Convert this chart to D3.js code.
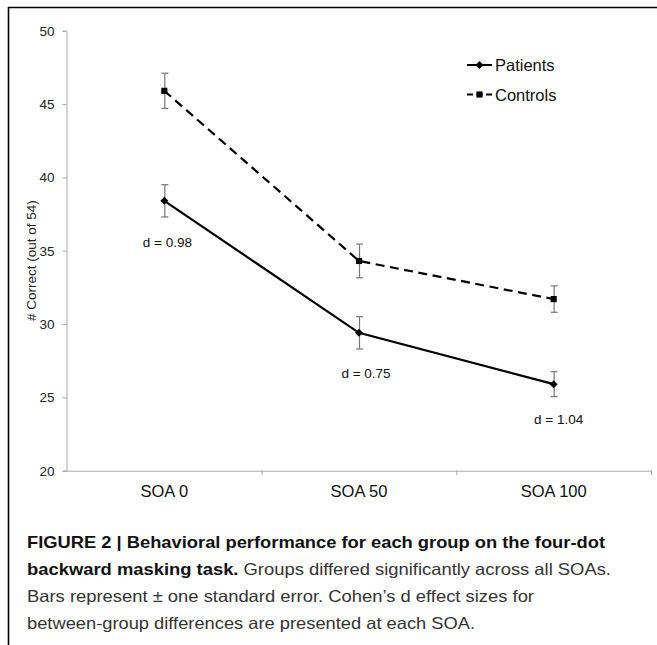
<!DOCTYPE html>
<html>
<head>
<meta charset="utf-8">
<script src="https://cdn.jsdelivr.net/npm/d3@7"></script>
<style>
  html, body { margin: 0; padding: 0; background: #fff; }
  svg { display: block; font-family: "Liberation Sans", Arial, Helvetica, sans-serif; }
</style>
</head>
<body>
<svg id="chart" width="657" height="645"></svg>
<script>
const categories = ["SOA 0", "SOA 50", "SOA 100"];
const patients = [38.4, 29.4, 25.9];
const patientsErr = [1.1, 1.1, 0.85];
const controls = [45.9, 34.3, 31.7];
const controlsErr = [1.2, 1.15, 0.9];
const effectLabels = ["d = 0.98", "d = 0.75", "d = 1.04"];
const effectY = [35.6, 26.65, 23.5];
const yTicks = [20, 25, 30, 35, 40, 45, 50];
const seriesNames = ["Patients", "Controls"];
const captionLines = [
  [{t: "FIGURE 2 | Behavioral performance for each group on the four-dot", b: true}],
  [{t: "backward masking task.", b: true}, {t: " Groups differed significantly across all SOAs.", b: false}],
  [{t: "Bars represent \u00B1 one standard error. Cohen\u2019s d effect sizes for", b: false}],
  [{t: "between-group differences are presented at each SOA.", b: false}]
];
const captionWidths = [578, 584, 507, 448];

const svg = d3.select("#chart");

// frame
svg.append("line").attr("x1", 8).attr("x2", 657).attr("y1", 7.5).attr("y2", 7.5)
  .attr("stroke", "#000").attr("stroke-width", 1.6);
svg.append("line").attr("x1", 8.5).attr("x2", 8.5).attr("y1", 7).attr("y2", 645)
  .attr("stroke", "#000").attr("stroke-width", 1.6);

const x = d3.scaleBand().domain(categories).range([67, 651]).padding(0);
const cx = c => x(c) + x.bandwidth() / 2;
const y = d3.scaleLinear().domain([20, 50]).range([470.7, 30.7]);

// y axis
const yAxis = svg.append("g").attr("transform", "translate(66.5,0)")
  .call(d3.axisLeft(y).tickValues(yTicks).tickSize(4).tickPadding(8).tickFormat(d3.format("d")));
yAxis.select(".domain").attr("stroke", "#a8a8a8");
yAxis.selectAll(".tick line").attr("stroke", "#a8a8a8");
yAxis.selectAll(".tick text").attr("fill", "#222").style("font-size", "13.5px")
  .style("font-family", "'Liberation Sans', Arial, sans-serif");

// x axis line
svg.append("line").attr("x1", 66.5).attr("x2", 651.5).attr("y1", y(20) + 0.5).attr("y2", y(20) + 0.5)
  .attr("stroke", "#a8a8a8");
const edges = categories.map(c => x(c)).concat([x(categories[categories.length - 1]) + x.bandwidth()]);
svg.selectAll(".xtick").data(edges.slice(1)).enter().append("line")
  .attr("x1", d => d + 0.5).attr("x2", d => d + 0.5)
  .attr("y1", y(20)).attr("y2", y(20) + 4.5)
  .attr("stroke", "#a8a8a8");
svg.selectAll(".xlab").data(categories).enter().append("text")
  .attr("x", d => cx(d)).attr("y", 497).attr("text-anchor", "middle")
  .attr("fill", "#111").style("font-size", "16.5px").text(d => d);

// y axis title
svg.append("text")
  .attr("transform", `translate(36,${(y(20) + y(50)) / 2 + 10}) rotate(-90)`)
  .attr("text-anchor", "middle").attr("fill", "#222").style("font-size", "13.5px")
  .text("# Correct (out of 54)");

// series
const line = d3.line().x((d, i) => cx(categories[i])).y(d => y(d));

function errorBars(vals, errs) {
  const g = svg.append("g");
  vals.forEach((v, i) => {
    const px = cx(categories[i]) + 0.5;
    g.append("line").attr("x1", px).attr("x2", px).attr("y1", y(v + errs[i])).attr("y2", y(v - errs[i]))
      .attr("stroke", "#777").attr("stroke-width", 1.2);
    [v + errs[i], v - errs[i]].forEach(e => {
      g.append("line").attr("x1", px - 3.5).attr("x2", px + 3.5).attr("y1", y(e)).attr("y2", y(e))
        .attr("stroke", "#777").attr("stroke-width", 1.2);
    });
  });
}
errorBars(controls, controlsErr);
errorBars(patients, patientsErr);

svg.append("path").datum(controls).attr("d", line).attr("fill", "none")
  .attr("stroke", "#000").attr("stroke-width", 2.2).attr("stroke-dasharray", "9,5.5");
svg.append("path").datum(patients).attr("d", line).attr("fill", "none")
  .attr("stroke", "#000").attr("stroke-width", 2.2);

const diamond = d3.symbol().type(d3.symbolDiamond2).size(40);
const square = d3.symbol().type(d3.symbolSquare).size(38);

svg.selectAll(".pm").data(patients).enter().append("path")
  .attr("d", diamond).attr("transform", (d, i) => `translate(${cx(categories[i])},${y(d)})`)
  .attr("fill", "#000");
svg.selectAll(".cm").data(controls).enter().append("path")
  .attr("d", square).attr("transform", (d, i) => `translate(${cx(categories[i])},${y(d)})`)
  .attr("fill", "#000");

// effect size labels
const effShift = [3, 7, 5];
svg.selectAll(".eff").data(effectLabels).enter().append("text")
  .attr("x", (d, i) => cx(categories[i]) + effShift[i])
  .attr("y", (d, i) => y(effectY[i]) + 5)
  .attr("text-anchor", "middle").attr("fill", "#111").style("font-size", "13.5px")
  .text(d => d);

// legend
const legend = svg.append("g");
seriesNames.forEach((name, i) => {
  const ly = 65 + i * 29.5;
  legend.append("line").attr("x1", 467).attr("x2", 492).attr("y1", ly).attr("y2", ly)
    .attr("stroke", "#000").attr("stroke-width", 2)
    .attr("stroke-dasharray", i === 1 ? "6,3.5" : null);
  legend.append("path").attr("d", i === 0 ? diamond : square)
    .attr("transform", `translate(479.5,${ly})`).attr("fill", "#000");
  legend.append("text").attr("x", 495).attr("y", ly + 6).attr("fill", "#111")
    .style("font-size", "16.5px").text(name);
});

// caption
const capBase = [548, 575, 602, 628.5];
captionLines.forEach((parts, i) => {
  const t = svg.append("text").attr("x", 27).attr("y", capBase[i])
    .attr("textLength", captionWidths[i]).attr("lengthAdjust", "spacingAndGlyphs")
    .style("font-size", "16.5px");
  parts.forEach(p => {
    t.append("tspan").text(p.t)
      .attr("font-weight", p.b ? "bold" : "normal")
      .attr("fill", p.b ? "#111" : "#333");
  });
});
</script>
</body>
</html>
